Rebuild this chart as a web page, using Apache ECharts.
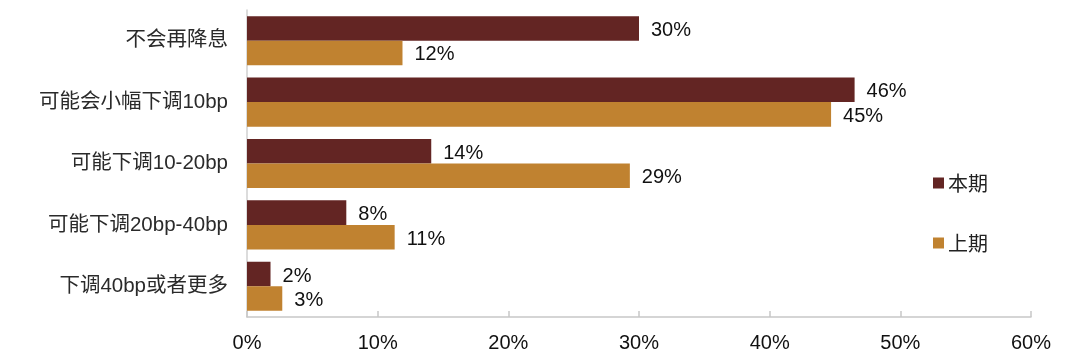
<!DOCTYPE html>
<html>
<head>
<meta charset="utf-8">
<script src="https://cdn.jsdelivr.net/npm/echarts@6/dist/echarts.min.js"></script>
<style>
html,body{margin:0;padding:0;background:#fff;}
#c{width:1080px;height:360px;}
</style>
</head>
<body>
<div id="c"></div>
<script>
const categories = ['不会再降息', '可能会小幅下调10bp', '可能下调10-20bp', '可能下调20bp-40bp', '下调40bp或者更多'];
const seriesNames = ['本期', '上期'];
const currentValues = [30.0, 46.5, 14.1, 7.6, 1.8];
const previousValues = [11.9, 44.7, 29.3, 11.3, 2.7];
const currentLabels = ['30%', '46%', '14%', '8%', '2%'];
const previousLabels = ['12%', '45%', '29%', '11%', '3%'];
const xTicks = [0, 10, 20, 30, 40, 50, 60];

const colors = ['#632523', '#C08230'];
const chart = echarts.init(document.getElementById('c'));
const labelFont = 'Liberation Sans, Arial, sans-serif';
function mkLabel(texts) {
  return {
    show: true,
    position: 'right',
    distance: 12,
    offset: [0, 2],
    color: '#111',
    fontSize: 20,
    fontFamily: labelFont,
    formatter: p => texts[p.dataIndex]
  };
}
chart.setOption({
  animation: false,
  color: colors,
  grid: { left: 247, right: 49, top: 10, bottom: 43, containLabel: false },
  legend: {
    orient: 'vertical',
    left: 928,
    top: 168,
    itemWidth: 11,
    itemHeight: 11,
    itemGap: 40,
    icon: 'rect',
    textStyle: { fontSize: 20, color: '#222', fontFamily: 'Noto Sans CJK SC', padding: [0, 0, 0, -1] },
    data: seriesNames
  },
  xAxis: {
    type: 'value',
    min: xTicks[0],
    max: xTicks[xTicks.length - 1],
    interval: 10,
    axisLine: { show: true, lineStyle: { color: '#c8c8c8', width: 1.5 } },
    axisTick: { show: true, inside: true, length: 6, lineStyle: { color: '#c8c8c8', width: 1.5 } },
    splitLine: { show: false },
    axisLabel: { margin: 16, fontSize: 20, color: '#111', fontFamily: labelFont, formatter: v => v + '%' }
  },
  yAxis: {
    type: 'category',
    inverse: true,
    data: categories,
    axisLine: { show: true, lineStyle: { color: '#d0d0d0', width: 1.5 } },
    axisTick: { show: false },
    axisLabel: { margin: 19, fontSize: 20.5, color: '#2a2a2a', fontFamily: 'Liberation Sans, Noto Sans CJK SC, sans-serif' }
  },
  series: [
    {
      name: seriesNames[0], type: 'bar', data: currentValues,
      barGap: '0%', barCategoryGap: '20%',
      itemStyle: { color: colors[0] },
      label: mkLabel(currentLabels)
    },
    {
      name: seriesNames[1], type: 'bar', data: previousValues,
      barGap: '0%', barCategoryGap: '20%',
      itemStyle: { color: colors[1] },
      label: mkLabel(previousLabels)
    }
  ]
});
</script>
</body>
</html>
